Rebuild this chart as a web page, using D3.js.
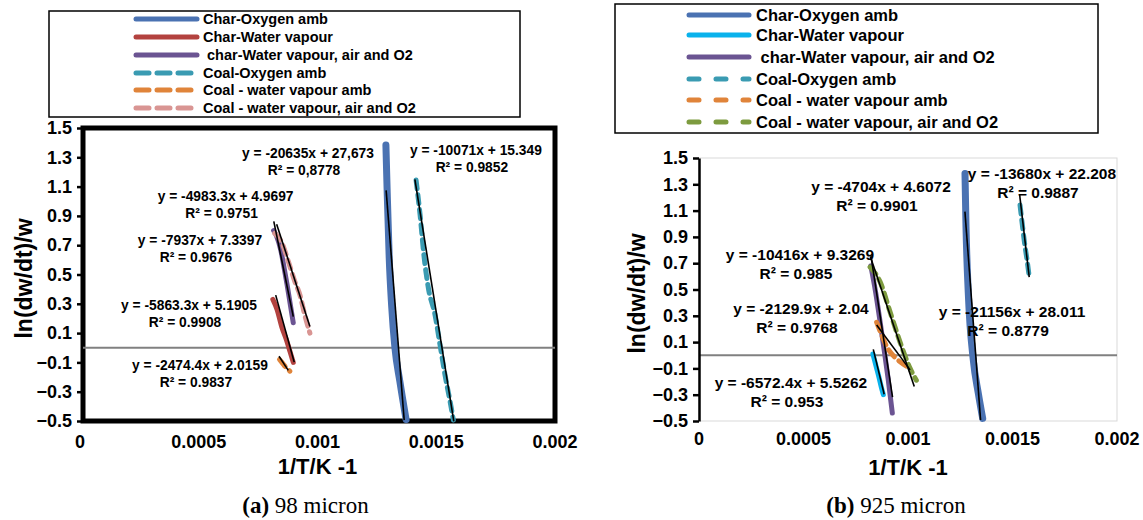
<!DOCTYPE html>
<html>
<head>
<meta charset="utf-8">
<script src="https://cdn.jsdelivr.net/npm/d3@7"></script>
<style>
  body { margin: 0; background: #fff; }
  text { font-family: "Liberation Sans", Arial, sans-serif; font-weight: bold; }
</style>
</head>
<body>
<svg id="chart" width="1143" height="520"></svg>
<script>
// axis ticks
const xTicks = [0, 0.0005, 0.001, 0.0015, 0.002];
const xTickLabels = ["0", "0.0005", "0.001", "0.0015", "0.002"];
const yTicks = [1.5, 1.3, 1.1, 0.9, 0.7, 0.5, 0.3, 0.1, -0.1, -0.3, -0.5];

const seriesNames = ["Char-Oxygen amb", "Char-Water vapour", " char-Water vapour, air and O2",
  "Coal-Oxygen amb", "Coal - water vapour amb", "Coal - water vapour, air and O2"];

// (a) 98 micron [1/T, ln(dw/dt)/w]
const charOxygenA = [[0.001288, 1.384], [0.001293, 1.088], [0.001302, 0.611], [0.001312, 0.292],
  [0.001326, 0.0], [0.001347, -0.232], [0.001373, -0.49]];
const charWaterA = [[0.000812, 0.33], [0.00083, 0.26], [0.00085, 0.14], [0.00087, 0.05],
  [0.000885, -0.03], [0.000898, -0.1]];
const charWaterAirA = [[0.000815, 0.8], [0.000828, 0.76], [0.000845, 0.67], [0.00086, 0.54],
  [0.000872, 0.43], [0.000885, 0.3], [0.000898, 0.17]];
const coalOxygenA = [[0.001415, 1.145], [0.001432, 0.906], [0.001448, 0.633], [0.001467, 0.406],
  [0.001495, 0.224], [0.001516, 0.019], [0.001537, -0.186], [0.001561, -0.391], [0.001572, -0.493]];
const coalWaterA = [[0.00084, -0.08], [0.000855, -0.11], [0.00087, -0.14], [0.000884, -0.16]];
const coalWaterAirA = [[0.00082, 0.78], [0.000849, 0.72], [0.000877, 0.59], [0.000905, 0.45],
  [0.000926, 0.36], [0.000947, 0.22], [0.000968, 0.1]];

// (b) 925 micron
const charOxygenB = [[0.0012727, 1.383], [0.0012775, 0.978], [0.0012885, 0.471], [0.0013124, -0.036],
  [0.0013364, -0.289], [0.0013574, -0.48]];
const charWaterB = [[0.000832, 0.01], [0.000845, -0.07], [0.00086, -0.16], [0.000872, -0.24], [0.000882, -0.3]];
const charWaterAirB = [[0.000822, 0.68], [0.000845, 0.48], [0.000866, 0.26], [0.000885, 0.05],
  [0.000905, -0.18], [0.000925, -0.44]];
const coalOxygenB = [[0.001536, 1.143], [0.001548, 0.98], [0.001558, 0.85], [0.00157, 0.72], [0.00158, 0.597]];
const coalWaterB = [[0.00085, 0.25], [0.00087, 0.17], [0.0009, 0.06], [0.00094, -0.02], [0.00098, -0.07], [0.00101, -0.1]];
const coalWaterAirB = [[0.000818, 0.67], [0.000866, 0.56], [0.000914, 0.33], [0.000962, 0.1],
  [0.00101, -0.1], [0.00104, -0.19]];

// trend lines: [slope, intercept, x from, x to]
const trendsA = [[-20635, 27.673, 0.001289, 0.001365], [-5863.3, 5.1905, 0.000824, 0.000902],
  [-7937, 7.3397, 0.000816, 0.000898], [-10071, 15.349, 0.00141, 0.001574],
  [-2474.4, 2.0159, 0.000838, 0.000877], [-4983.3, 4.9697, 0.000828, 0.000968]];
const trendsB = [[-21156, 28.011, 0.0012724, 0.0013473], [-6572.4, 5.5262, 0.000834, 0.000886],
  [-10416, 9.3269, 0.000823, 0.000926], [-13680, 22.208, 0.001534, 0.00158],
  [-2129.9, 2.04, 0.00085, 0.00101], [-4704, 4.6072, 0.00082, 0.00103]];

// trend labels: equation, R², anchor [x, y] in data units
const labelsA = [["y = -20635x + 27,673", "R² = 0,8778", 0.00096, 1.329],
  ["y = -4983.3x + 4.9697", "R² = 0.9751", 0.000613, 1.036],
  ["y = -7937x + 7.3397", "R² = 0.9676", 0.000505, 0.735],
  ["y = -5863.3x + 5.1905", "R² = 0.9908", 0.000459, 0.292],
  ["y = -2474.4x + 2.0159", "R² = 0.9837", 0.000505, -0.118],
  ["y = -10071x + 15.349", "R² = 0.9852", 0.001667, 1.35]];
const labelsB = [["y = -4704x + 4.6072", "R² = 0.9901", 0.000871, 1.279],
  ["y = -10416x + 9.3269", "R² = 0.985", 0.000483, 0.762],
  ["y = -2129.9x + 2.04", "R² = 0.9768", 0.000488, 0.352],
  ["y = -6572.4x + 5.5262", "R² = 0.953", 0.00044, -0.211],
  ["y = -13680x + 22.208", "R² = 0.9887", 0.001641, 1.378],
  ["y = -21156x + 28.011", "R² = 0.8779", 0.001498, 0.329]];

const svg = d3.select("#chart");

function panel(o) {
  const x = d3.scaleLinear().domain([0, 0.002]).range(o.xr);
  const y = d3.scaleLinear().domain([-0.5, 1.5]).range(o.yr);
  const g = svg.append("g");

  // plot area frame
  if (o.thick) {
    g.append("rect").attr("x", o.xr[0] + 3).attr("y", o.yr[1]).attr("width", o.xr[1] - o.xr[0] - 3)
      .attr("height", o.yr[0] - o.yr[1]).attr("fill", "none").attr("stroke", "#000").attr("stroke-width", 5);
  } else {
    g.append("rect").attr("x", o.xr[0]).attr("y", o.yr[1]).attr("width", o.xr[1] - o.xr[0])
      .attr("height", o.yr[0] - o.yr[1]).attr("fill", "none").attr("stroke", "#d9d9d9").attr("stroke-width", 1);
  }

  // horizontal axis at y = 0
  g.append("line").attr("x1", o.xr[0] + (o.thick ? 3 : 0)).attr("x2", o.xr[1])
    .attr("y1", y(0)).attr("y2", y(0)).attr("stroke", "#808080").attr("stroke-width", 2);

  // y axis
  const ya = g.append("g").attr("transform", `translate(${o.xr[0] + (o.thick ? 3 : 0)},0)`)
    .call(d3.axisLeft(y).tickValues(yTicks).tickSize(6).tickSizeOuter(0).tickPadding(5)
      .tickFormat(d3.format(".1f")));
  ya.select(".domain").attr("stroke-width", o.thick ? 0 : 2.5);
  ya.selectAll(".tick line").attr("stroke-width", 2.5);
  ya.selectAll("text").attr("font-size", 18).attr("fill", "#000");

  // x tick labels (no tick marks)
  g.selectAll(".xl").data(xTicks).join("text")
    .attr("x", d => x(d)).attr("y", o.xLabelY)
    .attr("text-anchor", "middle").attr("font-size", 18)
    .text((d, i) => xTickLabels[i]);

  // axis titles
  g.append("text").attr("transform", `translate(${o.yTitleX},${(o.yr[0] + o.yr[1]) / 2 + 4}) rotate(-90)`)
    .attr("text-anchor", "middle").attr("dy", "0.35em").attr("font-size", 23).text("ln(dw/dt)/w");
  g.append("text").attr("x", (o.xr[0] + o.xr[1]) / 2).attr("y", o.xTitleY)
    .attr("text-anchor", "middle").attr("font-size", 22).text("1/T/K -1");

  // series
  const line = d3.line().x(d => x(d[0])).y(d => y(d[1])).curve(d3.curveMonotoneX);
  o.series.forEach(s => {
    g.append("path").datum(s.data).attr("d", line).attr("fill", "none")
      .attr("stroke", s.color).attr("stroke-width", s.w).attr("stroke-linecap", "round")
      .attr("stroke-dasharray", s.dash ? "9,6" : null);
  });

  // trend lines
  o.trends.forEach(t => {
    g.append("line").attr("x1", x(t[2])).attr("x2", x(t[3]))
      .attr("y1", y(t[0] * t[2] + t[1])).attr("y2", y(t[0] * t[3] + t[1]))
      .attr("stroke", "#000").attr("stroke-width", 1.6);
  });

  // trend labels
  o.labels.forEach(l => {
    const t = g.append("text").attr("text-anchor", "middle").attr("font-size", o.labelSize);
    t.append("tspan").attr("x", x(l[2])).attr("y", y(l[3])).attr("dy", "0.35em").text(l[0]);
    t.append("tspan").attr("x", x(l[2]) - 4).attr("y", y(l[3]) + o.labelGap).attr("dy", "0.35em").text(l[1]);
  });

  // legend
  const lg = svg.append("g");
  lg.append("rect").attr("x", o.legend.x).attr("y", o.legend.y).attr("width", o.legend.w).attr("height", o.legend.h)
    .attr("fill", "#fff").attr("stroke", "#000").attr("stroke-width", 1.5);
  o.series.forEach((s, i) => {
    const ly = o.legend.rows[i];
    lg.append("line").attr("x1", o.legend.lx).attr("x2", o.legend.lx + o.legend.lw)
      .attr("y1", ly).attr("y2", ly).attr("stroke", s.color).attr("stroke-width", 5)
      .attr("stroke-linecap", "round").attr("stroke-dasharray", s.dash ? o.legend.dash : null);
    lg.append("text").attr("x", o.legend.tx).attr("y", ly).attr("dy", "0.35em")
      .attr("font-size", o.legend.fs).attr("xml:space", "preserve").text(s.name);
  });

  // caption
  const c = svg.append("text").attr("x", (o.xr[0] + o.xr[1]) / 2 - 12).attr("y", 513)
    .attr("text-anchor", "middle").attr("font-size", 23)
    .style("font-family", "'Liberation Serif', 'Times New Roman', serif").style("font-weight", "normal");
  c.append("tspan").style("font-weight", "bold").text(o.caption[0]);
  c.append("tspan").style("font-weight", "normal").text(o.caption[1]);
}

panel({
  xr: [80, 555], yr: [421, 128], thick: true, xLabelY: 448, xTitleY: 474, yTitleX: 24,
  labelSize: 13.8, labelGap: 17,
  series: [
    { name: seriesNames[0], data: charOxygenA, color: "#4a72b2", w: 7 },
    { name: seriesNames[1], data: charWaterA, color: "#b3423f", w: 5 },
    { name: seriesNames[2], data: charWaterAirA, color: "#6b5492", w: 5 },
    { name: seriesNames[3], data: coalOxygenA, color: "#3a9bb2", w: 5, dash: true },
    { name: seriesNames[4], data: coalWaterA, color: "#e0843a", w: 5, dash: true },
    { name: seriesNames[5], data: coalWaterAirA, color: "#d99593", w: 5, dash: true }
  ],
  trends: trendsA, labels: labelsA,
  legend: { x: 49, y: 11, w: 471, h: 106, lx: 136, lw: 61, tx: 203, fs: 14.5, dash: "13,8",
    rows: [19, 37, 55, 73, 90, 108] },
  caption: ["(a)", " 98 micron"]
});

panel({
  xr: [699, 1117], yr: [421, 158], thick: false, xLabelY: 445, xTitleY: 475, yTitleX: 637,
  labelSize: 15.5, labelGap: 19,
  series: [
    { name: seriesNames[0], data: charOxygenB, color: "#4a72b2", w: 7 },
    { name: seriesNames[1], data: charWaterB, color: "#0ab2ec", w: 5 },
    { name: seriesNames[2], data: charWaterAirB, color: "#6b5492", w: 5 },
    { name: seriesNames[3], data: coalOxygenB, color: "#3a9bb2", w: 5, dash: true },
    { name: seriesNames[4], data: coalWaterB, color: "#e0843a", w: 5, dash: true },
    { name: seriesNames[5], data: coalWaterAirB, color: "#7d9b3f", w: 5, dash: true }
  ],
  trends: trendsB, labels: labelsB,
  legend: { x: 615, y: 4, w: 483, h: 129, lx: 689, lw: 60, tx: 756, fs: 16.5, dash: "10,17",
    rows: [15, 35, 57, 79, 100, 122] },
  caption: ["(b)", " 925 micron"]
});
</script>
</body>
</html>
